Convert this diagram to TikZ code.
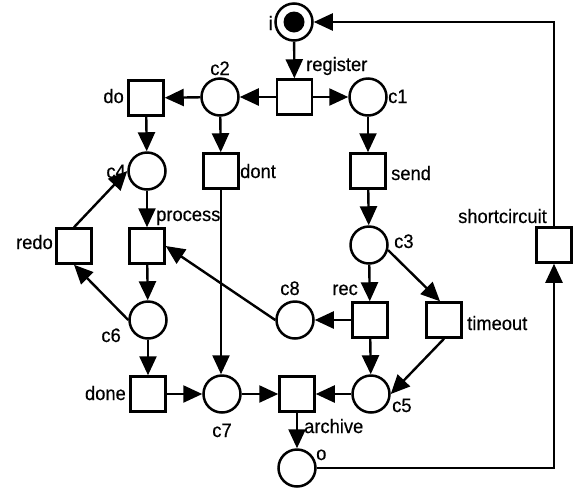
\documentclass[tikz,border=0pt]{standalone}
\usepackage{fontspec}
\setmainfont[FakeStretch=0.94,FakeBold=0.4]{Liberation Sans}
\usetikzlibrary{arrows.meta}
\tikzset{
  place/.style={circle,draw,line width=2.5pt,minimum size=37pt,inner sep=0pt},
  trans/.style={rectangle,draw,line width=2.5pt,minimum size=35pt,inner sep=0pt},
  lbl/.style={inner sep=0pt,font=\fontsize{19.5}{21}\selectfont},
  arc/.style={line width=2.4pt,-{Triangle[length=19pt,width=17pt]}},
}
\begin{document}
\begin{tikzpicture}[x=1pt,y=-1pt]
\useasboundingbox (0,0) rectangle (585,491);
% places
\node[place] (i) at (294,22) {};
\fill (i.center) circle (10.5pt);
\node[place] (c1) at (368,97) {};
\node[place] (c2) at (220,97) {};
\node[place] (c4) at (147,171) {};
\node[place] (c3) at (369,245) {};
\node[place] (c6) at (148,320) {};
\node[place] (c8) at (295,320) {};
\node[place] (c7) at (222,394) {};
\node[place] (c5) at (371,394) {};
\node[place] (o) at (297,468) {};
% transitions
\node[trans] (register) at (294.5,97) {};
\node[trans] (do) at (146,98) {};
\node[trans] (dont) at (221,171) {};
\node[trans] (send) at (368,171) {};
\node[trans] (shortcircuit) at (554,245) {};
\node[trans] (redo) at (74,246) {};
\node[trans] (process) at (147,246) {};
\node[trans] (rec) at (370,320) {};
\node[trans] (timeout) at (444,320) {};
\node[trans] (done) at (148,394) {};
\node[trans] (archive) at (297,394) {};
% labels
\node[lbl,anchor=base east] (li) at (273,30) {i};
\node[lbl,anchor=base west] (lregister) at (306,71) {register};
\node[lbl,anchor=base west] (lc1) at (388,103) {c1};
\node[lbl,anchor=base] (lc2) at (220,75) {c2};
\node[lbl,anchor=base east] (ldo) at (124,103) {do};
\node[lbl,anchor=base east] (lc4) at (126,178) {c4};
\node[lbl,anchor=base west] (ldont) at (240,178) {dont};
\node[lbl,anchor=base west] (lsend) at (391,180) {send};
\node[lbl,anchor=base east] (lshort) at (547,223) {shortcircuit};
\node[lbl,anchor=base west] (lprocess) at (156,221) {process};
\node[lbl,anchor=base east] (lredo) at (53,249) {redo};
\node[lbl,anchor=base west] (lc3) at (394,248) {c3};
\node[lbl,anchor=base] (lc8) at (290,295) {c8};
\node[lbl,anchor=base east] (lrec) at (358,295) {rec};
\node[lbl,anchor=base west] (ltimeout) at (467,330) {timeout};
\node[lbl,anchor=base east] (lc6) at (121,342) {c6};
\node[lbl,anchor=base east] (ldone) at (126,400) {done};
\node[lbl,anchor=base] (lc7) at (222,437) {c7};
\node[lbl,anchor=base west] (lc5) at (392,412) {c5};
\node[lbl,anchor=base west] (larchive) at (304,433) {archive};
\node[lbl,anchor=base west] (lo) at (316,460) {o};
% arcs
\draw[arc] (i) -- (register);
\draw[arc] (register) -- (c1);
\draw[arc] (register) -- (c2);
\draw[arc] (c2) -- (do);
\draw[arc] (c2) -- (dont);
\draw[arc] (do) -- (c4);
\draw[arc] (c4) -- (process);
\draw[arc] (c1) -- (send);
\draw[arc] (send) -- (c3);
\draw[arc] (c3) -- (rec);
\draw[arc] (c3.-15) -- ([xshift=-4pt]timeout.north);
\draw[arc] (timeout.south) -- (c5.east);
\draw[arc] (rec) -- (c8);
\draw[arc] (rec) -- (c5);
\draw[arc] (c8.west) -- (process.east);
\draw[arc] (process) -- (c6);
\draw[arc] (c6.west) -- (redo.south);
\draw[arc] (redo.north) -- (c4.west);
\draw[arc] (c6) -- (done);
\draw[arc] (done) -- (c7);
\draw[arc] (dont.south) -- (dont.south |- c7.north);
\draw[arc] (c7) -- (archive);
\draw[arc] (c5) -- (archive);
\draw[arc] (archive) -- (o);
\draw[arc] (o.east) -| (shortcircuit.south);
\draw[arc] (shortcircuit.north) |- (i.east);
\end{tikzpicture}
\end{document}
